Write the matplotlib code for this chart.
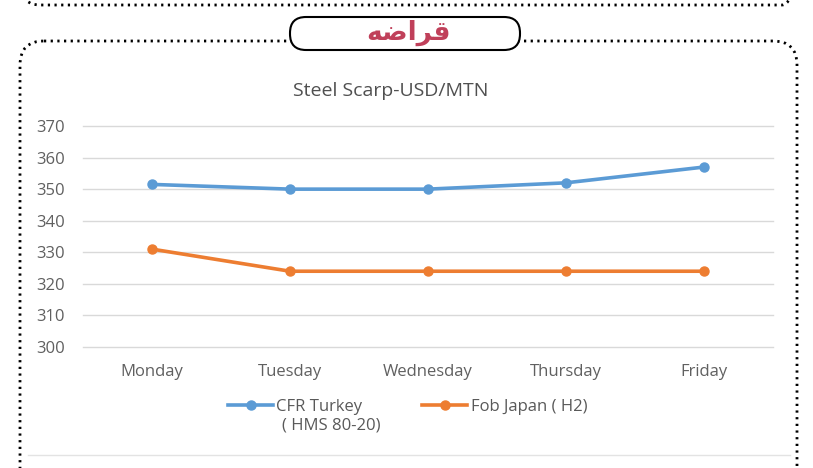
import matplotlib.pyplot as plt
from matplotlib.patches import FancyBboxPatch

days = ["Monday", "Tuesday", "Wednesday", "Thursday", "Friday"]
cfr_turkey = [351.5, 350, 350, 352, 357]
fob_japan = [331, 324, 324, 324, 324]
yticks = [300, 310, 320, 330, 340, 350, 360, 370]
title = "Steel Scarp-USD/MTN"
header = "\ufeea\ufebf\ufe8d\ufeae\ufed7"  # قراضه, visual order, presentation forms

W, H = 813, 468
fig = plt.figure(figsize=(W / 100, H / 100), dpi=100)
fig.patch.set_facecolor("white")

# decoration layer in pixel coords
deco = fig.add_axes([0, 0, 1, 1])
deco.set_xlim(0, W); deco.set_ylim(H, 0); deco.axis("off")
dot = dict(linestyle=(0, (0.8, 1.6)), linewidth=2.0, edgecolor="black", facecolor="none")
deco.add_patch(FancyBboxPatch((22, -120), 778, 125, boxstyle="round,pad=0,rounding_size=18", **dot))
deco.add_patch(FancyBboxPatch((20, 41), 777, 500, boxstyle="round,pad=0,rounding_size=24", **dot))
deco.add_patch(FancyBboxPatch((290, 17), 230, 33, boxstyle="round,pad=0,rounding_size=16",
                              linewidth=1.5, edgecolor="black", facecolor="white"))
deco.text(408, 33, header, ha="center", va="center", fontsize=19, fontweight="bold",
          color="#c0405a", family="DejaVu Sans")
deco.plot([28, 790], [455, 455], color="#e3e3e3", lw=1)
deco.text(391, 91, title, ha="center", va="center", fontsize=14, color="#505050", family="Open Sans")
deco.text(282, 426, "( HMS 80-20)", ha="left", va="center", fontsize=12, color="#595959",
          family="Open Sans")

ax = fig.add_axes([83 / W, 1 - 347 / H, 690 / W, 221 / H])
x = range(len(days))
ax.plot(x, cfr_turkey, color="#5b9bd5", lw=2.6, marker="o", ms=6.5, label="CFR Turkey")
ax.plot(x, fob_japan, color="#ed7d31", lw=2.6, marker="o", ms=6.5, label="Fob Japan ( H2)")
ax.set_xlim(-0.5, 4.5); ax.set_ylim(300, 370)
ax.set_yticks(yticks)
ax.set_xticks(list(x), days)
ax.grid(axis="y", color="#d9d9d9", lw=1)
for g in ax.get_ygridlines():
    g.set_clip_on(False)
ax.set_axisbelow(True)
for s in ax.spines.values():
    s.set_visible(False)
ax.tick_params(length=0, colors="#606060", labelsize=12)
ax.tick_params(axis="y", pad=13)
ax.tick_params(axis="x", pad=12)
for t in ax.get_xticklabels() + ax.get_yticklabels():
    t.set_family("Open Sans")
ax.legend(loc="center left", bbox_to_anchor=(228 / W, 1 - 407 / H), bbox_transform=fig.transFigure,
          ncol=2, frameon=False, prop={"family": "Open Sans", "size": 12}, labelcolor="#595959",
          handlelength=2.7, handletextpad=0.2, columnspacing=3.6, borderaxespad=0, borderpad=0)

fig.savefig("out.png", dpi=100)
